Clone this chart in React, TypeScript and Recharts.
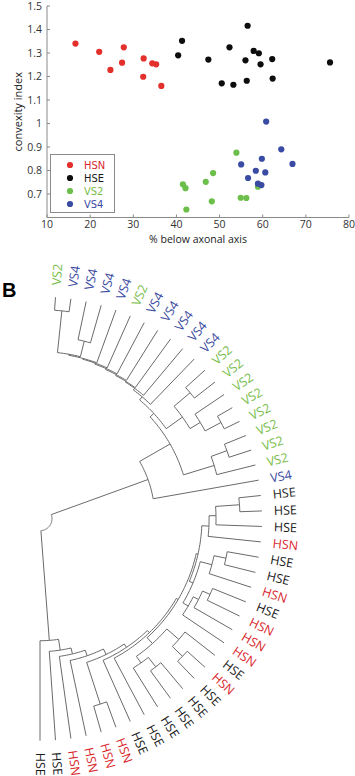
import React from "react";
import {
  ScatterChart,
  ComposedChart,
  Scatter,
  Line,
  XAxis,
  YAxis,
  Label,
} from "recharts";

const FONT = '"Open Sans", "DejaVu Sans", sans-serif';
const LEGEND_FONT = '"DejaVu Sans Condensed", "Liberation Sans", sans-serif';

const C = {
  HSN: "#e3302c",
  HSE: "#0d0d0d",
  VS2: "#6cbf4a",
  VS4: "#3a4ba3",
  axis: "#8a8a8a",
  tick: "#333333",
  branch: "#6a6a6a",
} as const;

const TEXT_C: Record<string, string> = {
  HSN: "#d9272e",
  HSE: "#1a1a1a",
  VS2: "#79bd4b",
  VS4: "#3c4b9f",
};

// --- panel A: convexity index vs % of arbor below the axonal axis ---
const X_TICKS = [10, 20, 30, 40, 50, 60, 70, 80];
const Y_TICKS = [0.7, 0.8, 0.9, 1, 1.1, 1.2, 1.3, 1.4, 1.5];

const HSN_POINTS = [
  [16.6, 1.34], [22.1, 1.305], [24.7, 1.228], [27.8, 1.324], [27.4, 1.259],
  [32.4, 1.277], [32.3, 1.199], [34.4, 1.256], [35.3, 1.252], [36.5, 1.16],
];
const HSE_POINTS = [
  [40.4, 1.29], [41.3, 1.352], [47.4, 1.272], [56.5, 1.416], [52.3, 1.324],
  [57.9, 1.309], [59.1, 1.299], [56.0, 1.269], [59.5, 1.252], [62.2, 1.274],
  [75.6, 1.26], [50.5, 1.171], [53.2, 1.165], [56.3, 1.182], [62.3, 1.191],
];
const VS2_POINTS = [
  [53.9, 0.876], [48.5, 0.789], [46.8, 0.752], [41.5, 0.741], [42.1, 0.725],
  [58.9, 0.731], [48.2, 0.669], [54.9, 0.684], [56.2, 0.683], [42.3, 0.634],
];
const VS4_POINTS = [
  [60.8, 1.008], [64.3, 0.89], [59.8, 0.85], [66.9, 0.828], [55.0, 0.826],
  [58.4, 0.799], [60.6, 0.792], [56.6, 0.768], [58.9, 0.744], [59.7, 0.738],
];

const GROUPS = [
  { name: "HSN", points: HSN_POINTS },
  { name: "HSE", points: HSE_POINTS },
  { name: "VS2", points: VS2_POINTS },
  { name: "VS4", points: VS4_POINTS },
];

// --- panel B: cluster tree of the same 45 cells ---
const LEAF_LABELS = [
  "VS2", "VS4", "VS4", "VS4", "VS4", "VS2", "VS4", "VS4", "VS4", "VS4",
  "VS4", "VS2", "VS2", "VS2", "VS2", "VS2", "VS2", "VS2", "VS2", "VS4",
  "HSE", "HSE", "HSE", "HSN", "HSE", "HSE", "HSN", "HSE", "HSN", "HSN",
  "HSN", "HSE", "HSN", "HSE", "HSE", "HSE", "HSE", "HSE", "HSE", "HSN",
  "HSN", "HSN", "HSN", "HSE", "HSE",
];

// linkage rows [a, b, distance]; leaves are 1..45, merged clusters 46..
const LINKAGE: [number, number, number][] = [
  [1, 2, 0.62], [3, 4, 1.86], [46, 47, 2.62], [48, 5, 2.67], [49, 6, 2.71],
  [50, 7, 2.76], [51, 8, 2.81], [52, 9, 2.86], [53, 10, 2.9], [54, 11, 3.0],
  [15, 16, 0.81], [14, 56, 1.67], [12, 13, 1.24], [58, 57, 2.24], [17, 18, 1.1],
  [60, 19, 1.9], [55, 59, 3.19], [62, 61, 3.43], [63, 20, 5.1],
  [21, 22, 1.05], [65, 23, 2.19], [66, 24, 2.52], [25, 26, 1.52], [68, 27, 2.1],
  [28, 29, 1.71], [70, 30, 2.1], [71, 31, 2.38], [69, 72, 2.67], [67, 73, 2.86],
  [33, 34, 1.14], [32, 75, 1.81], [35, 36, 1.62], [77, 37, 2.19], [76, 78, 2.57],
  [74, 79, 2.95], [80, 38, 3.05], [81, 39, 3.19], [40, 41, 1.29], [82, 83, 3.38],
  [84, 42, 3.67], [85, 43, 3.95], [86, 44, 4.24], [87, 45, 4.76],
  [64, 88, 10.0],
];

// fan geometry (px from the fan centre)
const ANGLE_FIRST = -86;
const ANGLE_STEP = 4;
const R_LEAF = 222;
const R_ROOT = 12;
const R_LABEL = 234;
const FAN_CX = 40;
const FAN_CY = 278.7;
const FAN_W = 355;
const FAN_H = 536;

const rad = (deg: number) => (deg * Math.PI) / 180;
const polar = (r: number, deg: number) => ({
  x: r * Math.cos(rad(deg)),
  y: r * Math.sin(rad(deg)),
});

function layoutTree() {
  const nodes = LEAF_LABELS.map((_, i) => ({
    angle: ANGLE_FIRST + i * ANGLE_STEP,
    r: R_LEAF,
  }));
  const hMax = Math.max(...LINKAGE.map((m) => m[2]));
  const toR = (h: number) => R_LEAF - ((R_LEAF - R_ROOT) * h) / hMax;

  const branches = LINKAGE.map(([a, b, h]) => {
    const A = nodes[a - 1];
    const B = nodes[b - 1];
    const r = toR(h);
    const pts = [polar(A.r, A.angle)];
    const steps = Math.max(2, Math.ceil(Math.abs(B.angle - A.angle)));
    for (let s = 0; s <= steps; s++) {
      pts.push(polar(r, A.angle + ((B.angle - A.angle) * s) / steps));
    }
    pts.push(polar(B.r, B.angle));
    nodes.push({ angle: (A.angle + B.angle) / 2, r });
    return pts;
  });

  const leaves = LEAF_LABELS.map((label, i) => {
    const angle = ANGLE_FIRST + i * ANGLE_STEP;
    return { ...polar(R_LABEL, angle), angle, label };
  });
  return { branches, leaves };
}

const TREE = layoutTree();

function Dot(props: any) {
  const { cx, cy, fill } = props;
  return <circle cx={cx} cy={cy} r={3.1} fill={fill} />;
}

function LeafLabel(props: any) {
  const { cx, cy, payload } = props;
  return (
    <text
      x={cx}
      y={cy}
      transform={`rotate(${payload.angle} ${cx} ${cy})`}
      textAnchor="start"
      dominantBaseline="central"
      fill={TEXT_C[payload.label]}
      fontSize={12.5}
      fontFamily={FONT}
    >
      {payload.label}
    </text>
  );
}

const xTitle = (p: any) => {
  const vb = p.viewBox;
  return (
    <text
      x={vb.x + vb.width / 2}
      y={vb.y + 25.5}
      textAnchor="middle"
      fontSize={10.5}
      fontFamily={FONT}
      fill="#222"
    >
      % below axonal axis
    </text>
  );
};

const yTitle = (p: any) => {
  const vb = p.viewBox;
  const x = 17;
  const y = vb.y + vb.height / 2;
  return (
    <text
      x={x}
      y={y}
      transform={`rotate(-90 ${x} ${y})`}
      textAnchor="middle"
      dominantBaseline="central"
      fontSize={11}
      fontFamily={FONT}
      fill="#222"
    >
      convexity index
    </text>
  );
};

function ConvexityScatter() {
  const tickStyle = { fontSize: 10.5, fill: C.tick, fontFamily: FONT };
  return (
    <div style={{ position: "absolute", left: 0, top: 0 }}>
      <ScatterChart
        width={355}
        height={245}
        margin={{ top: 6, right: 6, bottom: 0, left: 0 }}
      >
        <XAxis
          type="number"
          dataKey="x"
          domain={[10, 80]}
          ticks={X_TICKS}
          allowDataOverflow
          height={27.5}
          tickSize={-3}
          tickMargin={6.5}
          axisLine={{ stroke: C.axis }}
          tickLine={{ stroke: C.axis }}
          tick={tickStyle}
        >
          <Label content={xTitle} />
        </XAxis>
        <YAxis
          type="number"
          dataKey="y"
          domain={[0.6, 1.5]}
          ticks={Y_TICKS}
          allowDataOverflow
          width={47}
          tickSize={-3}
          tickMargin={8}
          axisLine={{ stroke: C.axis }}
          tickLine={{ stroke: C.axis }}
          tick={tickStyle}
        >
          <Label content={yTitle} />
        </YAxis>
        {GROUPS.map((g) => (
          <Scatter
            key={g.name}
            name={g.name}
            data={g.points.map(([x, y]) => ({ x, y }))}
            fill={C[g.name as keyof typeof C]}
            shape={Dot}
            isAnimationActive={false}
          />
        ))}
      </ScatterChart>

      {/* legend box, lower left of the axes */}
      <svg
        width={65}
        height={59}
        style={{ position: "absolute", left: 50, top: 154 }}
      >
        <rect
          x={0.5}
          y={0.5}
          width={64}
          height={58}
          fill="#fff"
          stroke={C.axis}
        />
        {GROUPS.map((g, i) => (
          <g key={g.name}>
            <circle
              cx={20}
              cy={11 + i * 13}
              r={3.1}
              fill={C[g.name as keyof typeof C]}
            />
            <text
              x={34}
              y={11 + i * 13}
              dominantBaseline="central"
              fontFamily={LEGEND_FONT}
              fontSize={11}
              fill={TEXT_C[g.name]}
            >
              {g.name}
            </text>
          </g>
        ))}
      </svg>
    </div>
  );
}

function CellDendrogram() {
  return (
    <ComposedChart
      width={FAN_W}
      height={FAN_H}
      margin={{ top: 0, right: 0, bottom: 0, left: 0 }}
    >
      <XAxis
        type="number"
        dataKey="x"
        domain={[-FAN_CX, FAN_W - FAN_CX]}
        allowDataOverflow
        hide
      />
      <YAxis
        type="number"
        dataKey="y"
        domain={[-FAN_CY, FAN_H - FAN_CY]}
        allowDataOverflow
        reversed
        hide
      />
      {TREE.branches.map((pts, i) => (
        <Line
          key={`b${i}`}
          data={pts}
          dataKey="y"
          type="linear"
          stroke={C.branch}
          strokeWidth={1}
          dot={false}
          activeDot={false}
          legendType="none"
          isAnimationActive={false}
        />
      ))}
      <Scatter
        data={TREE.leaves}
        dataKey="y"
        shape={LeafLabel}
        isAnimationActive={false}
      />
    </ComposedChart>
  );
}

export default function App() {
  return (
    <div
      style={{
        position: "absolute",
        left: 0,
        top: 0,
        width: 355,
        height: 776,
        overflow: "hidden",
        background: "#fff",
      }}
    >
      <ConvexityScatter />
      <div
        style={{
          position: "absolute",
          left: 2,
          top: 280,
          fontFamily: '"Liberation Sans", Arial, sans-serif',
          fontWeight: 700,
          fontSize: 20,
          lineHeight: "20px",
        }}
      >
        B
      </div>
      <div style={{ position: "absolute", left: 0, top: 240 }}>
        <CellDendrogram />
      </div>
    </div>
  );
}
